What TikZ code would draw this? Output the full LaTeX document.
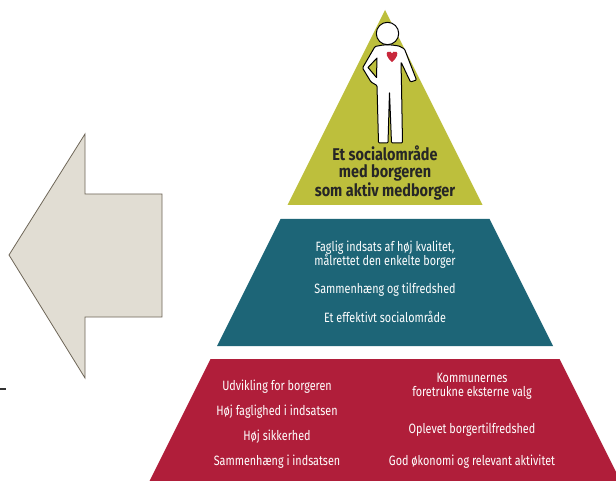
\documentclass[tikz,border=0pt]{standalone}
\usepackage{fontspec}
\newfontfamily\condfont[FakeStretch=0.80]{Fira Sans}
\newfontfamily\headfont[FakeStretch=0.85]{Fira Sans}
\definecolor{pyrlime}{HTML}{BDBF3C}
\definecolor{pyrteal}{HTML}{1D6577}
\definecolor{pyrred}{HTML}{B01E3A}
\definecolor{arrowfill}{HTML}{E1DDD3}
\definecolor{arrowline}{HTML}{6E6658}
\definecolor{heartred}{HTML}{C8283C}
\tikzset{
  bandtext/.style={text=white, font=\condfont\fontsize{13.5}{14}\selectfont, align=center, inner sep=0pt},
  headtext/.style={text=black!85, font=\headfont\bfseries\fontsize{17}{17}\selectfont, align=center, inner sep=0pt},
  figline/.style={draw=black, line width=1pt, line join=round, fill=white}
}
\begin{document}
\begin{tikzpicture}[x=1pt,y=-1pt]
\useasboundingbox (0,0) rectangle (616,481);
\fill[white] (0,0) rectangle (616,481);
% arrow
\draw[fill=arrowfill, draw=arrowline, line width=0.8pt, line join=miter]
  (9,255) -- (85,134) -- (85,194) -- (162,194) -- (162,317) -- (85,317) -- (85,378) -- cycle;
\draw[black!80, line width=1.5pt] (0,389) -- (6,389);
% pyramid bands
\fill[pyrlime] (385,10) -- (482.5,205) -- (287.5,205) -- cycle;
\fill[pyrteal] (280.5,219) -- (489.5,219) -- (553,346) -- (217,346) -- cycle;
\begin{scope}
\clip (0,0) rectangle (616,481);
\fill[pyrred] (210.5,359) -- (559.5,359) -- (620.5,481) -- (149.5,481) -- cycle;
\end{scope}
% figure
\draw[figline, rounded corners=1pt]
  (383,45) -- (375,46.5) -- (362.5,68) -- (371,82) -- (377,85.5)
  -- (378.5,143) -- (388,143) -- (389.5,92) -- (391.5,143) -- (402.5,143)
  -- (401.5,85) -- (401,62) -- (410.5,82) -- (416.5,80) -- (404.5,49) -- (399,46) -- (392,45) -- cycle;
\draw[line width=1pt, fill=pyrlime, line join=round] (377,58) -- (368,67.5) -- (376.5,77.5) -- cycle;
\draw[figline] (387.5,33.5) circle (11.2);
\fill[heartred] (392,62) .. controls (386,57) and (386,53) .. (387.5,52)
  .. controls (389.5,50.8) and (391.5,52) .. (392,53.5)
  .. controls (392.5,52) and (394.5,50.8) .. (396.5,52)
  .. controls (398,53) and (398,57) .. (392,62) -- cycle;
% texts top
\node[headtext] (t1) at (385,173) {Et socialområde\\med borgeren\\som aktiv medborger};
% teal texts
\node[bandtext] (m1) at (385,255) {Faglig indsats af høj kvalitet,\\[-1.5pt]målrettet den enkelte borger};
\node[bandtext] (m3) at (385,290) {Sammenhæng og tilfredshed};
\node[bandtext] (m4) at (385,317) {Et effektivt socialområde};
% red texts left
\node[bandtext] (l1) at (277,387) {Udvikling for borgeren};
\node[bandtext] (l2) at (277,412) {Høj faglighed i indsatsen};
\node[bandtext] (l3) at (277,437) {Høj sikkerhed};
\node[bandtext] (l4) at (277,462) {Sammenhæng i indsatsen};
% red texts right
\node[bandtext] (r1) at (472,386) {Kommunernes\\foretrukne eksterne valg};
\node[bandtext] (r3) at (472,430) {Oplevet borgertilfredshed};
\node[bandtext] (r4) at (472,462) {God økonomi og relevant aktivitet};
\end{tikzpicture}
\end{document}
